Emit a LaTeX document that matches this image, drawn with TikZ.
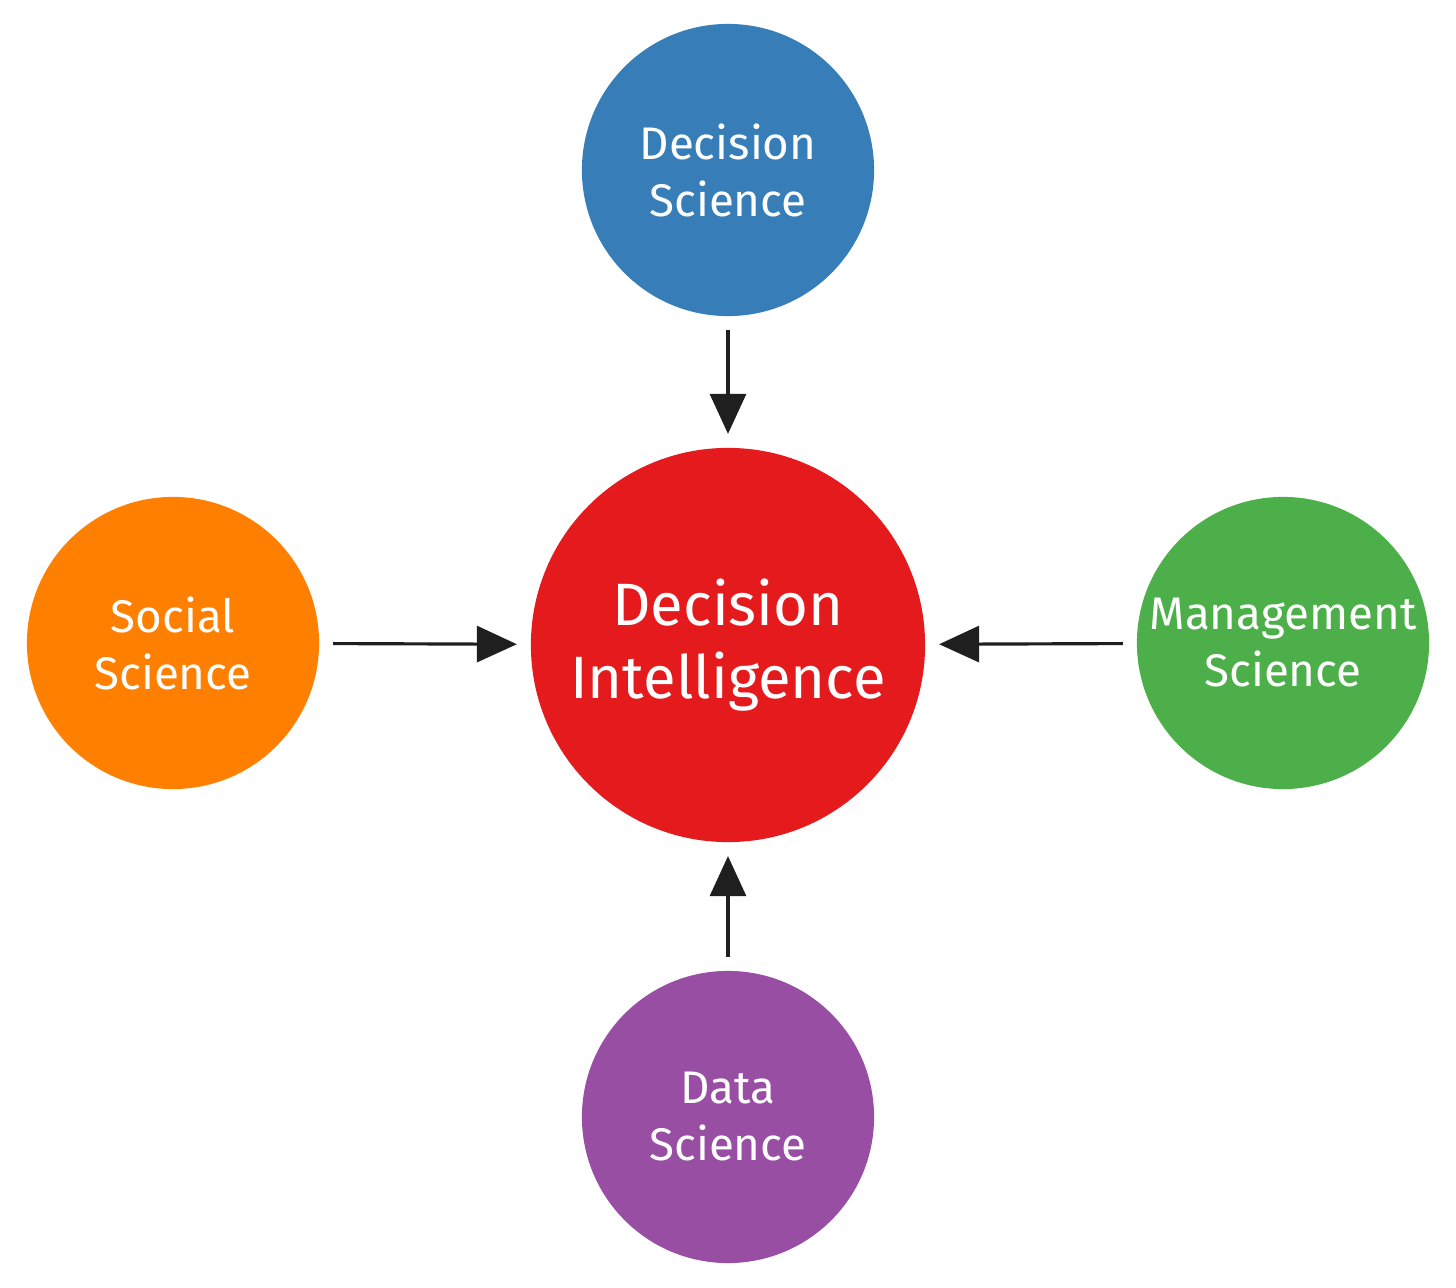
\documentclass[tikz,border=0pt]{standalone}
\usepackage{fontspec}
\setmainfont{Fira Sans}
\usetikzlibrary{arrows.meta}
\definecolor{diblue}{HTML}{377EB8}
\definecolor{dired}{HTML}{E41A1C}
\definecolor{diorange}{HTML}{FF7F00}
\definecolor{digreen}{HTML}{4DAF4A}
\definecolor{dipurple}{HTML}{984EA3}
\begin{document}
\begin{tikzpicture}[x=0.01cm,y=-0.01cm,
    field/.style={circle,minimum size=2.92cm,inner sep=-0.6cm,outer sep=0pt,text=white,align=center,
        font=\fontsize{13}{16.2}\selectfont},
    core/.style={circle,minimum size=3.94cm,inner sep=-0.6cm,outer sep=0pt,text=white,align=center,
        font=\fontsize{17}{20.7}\selectfont},
    feed/.style={-{Triangle[width=0.36cm,length=0.4cm]},line width=0.9pt,
        draw=black!88,shorten <=0.14cm,shorten >=0.14cm}]
\useasboundingbox[fill=white] (0,0) rectangle (1456,1288);
\node[core,fill=dired] (di) at (728,645) {Decision\\Intelligence};
\node[field,fill=diblue] (ds) at (728,170) {Decision\\Science};
\node[field,fill=diorange] (ss) at (173,643) {Social\\Science};
\node[field,fill=digreen] (ms) at (1283,643) {Management\\Science};
\node[field,fill=dipurple] (das) at (728,1117) {Data\\Science};
\draw[feed] (ds) -- (di);
\draw[feed] (ss) -- (di);
\draw[feed] (ms) -- (di);
\draw[feed] (das) -- (di);
\end{tikzpicture}
\end{document}
